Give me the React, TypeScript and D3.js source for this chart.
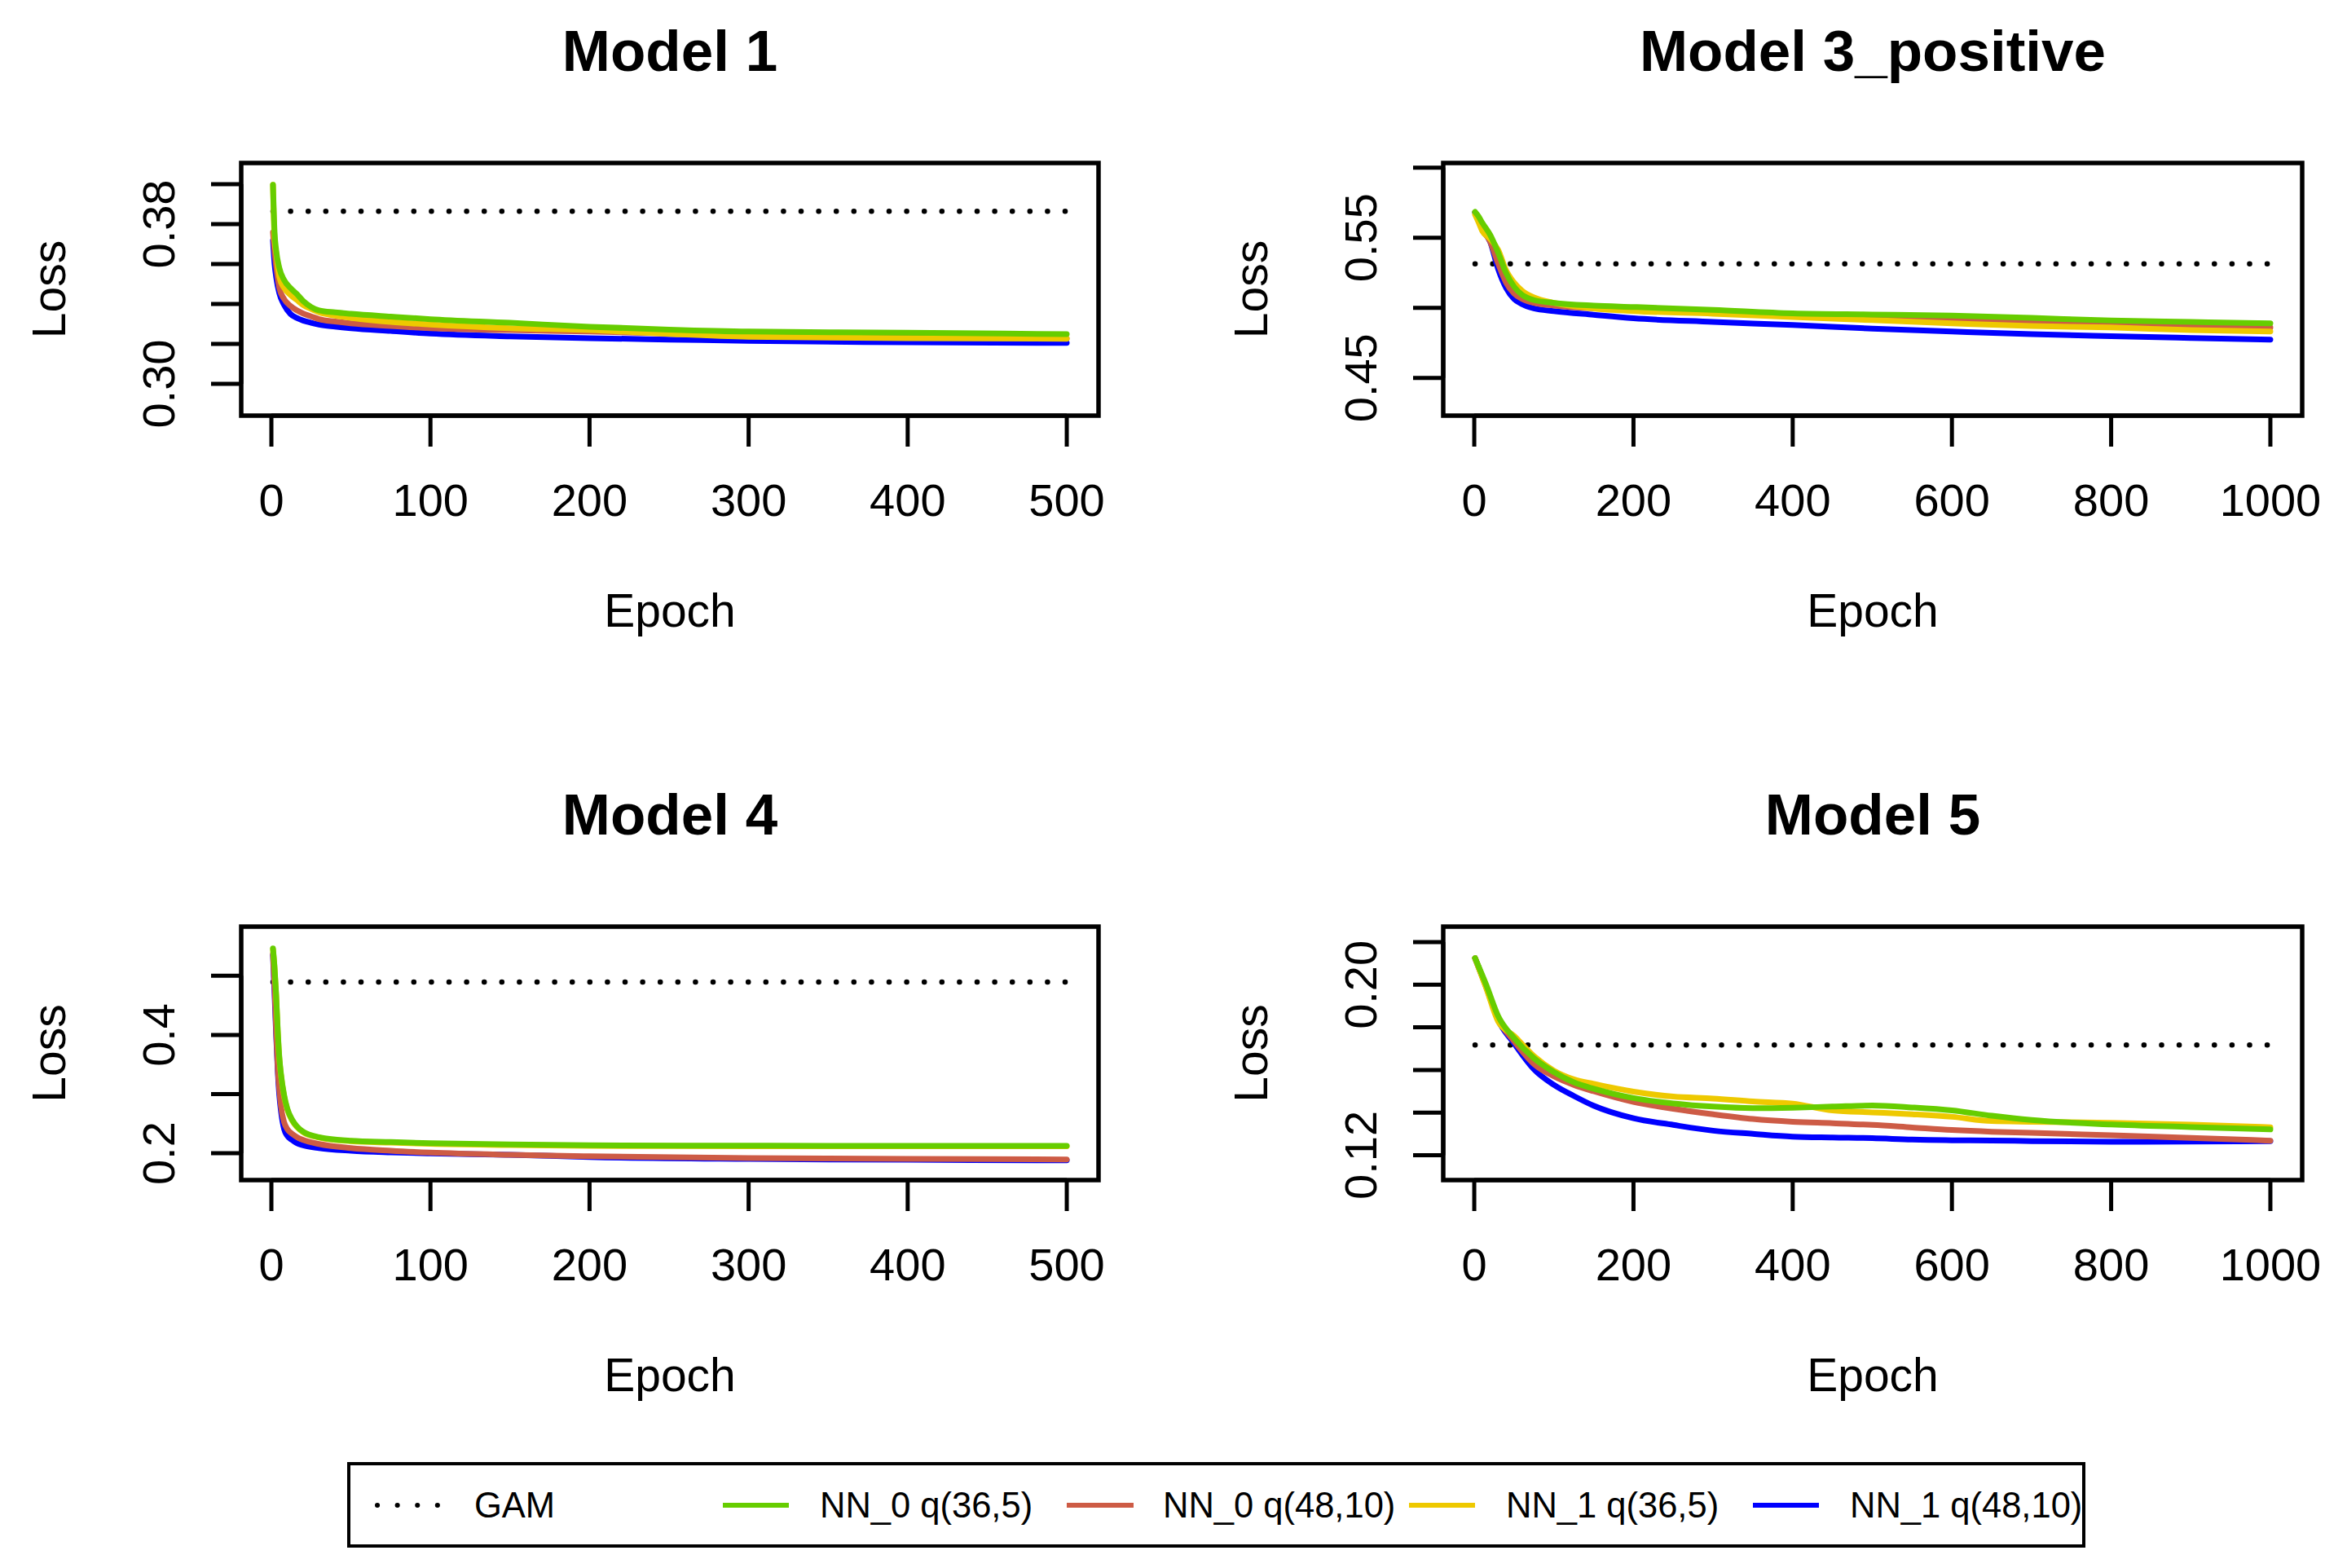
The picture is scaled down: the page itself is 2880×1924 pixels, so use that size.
import React from 'react';
import * as d3 from 'd3';

// ---------- shared legend / series data ----------
const SERIES_NAMES = ['NN_0 q(36,5)', 'NN_0 q(48,10)', 'NN_1 q(36,5)', 'NN_1 q(48,10)'];
const SERIES_COLORS = ['#66CD00', '#CD5B45', '#EEC900', '#0000FF'];
const DRAW_ORDER = [3, 1, 2, 0];
const GAM_LABEL = 'GAM';
const X_LABEL = 'Epoch';
const Y_LABEL = 'Loss';

// ---------- Model 1 ----------
const M1_TITLE = 'Model 1';
const M1_EPOCHS = [1, 2, 3, 5, 8, 12, 16, 20, 25, 30, 40, 50, 75, 100, 150, 200, 250, 300, 400, 500];
const M1_NN0_36 = [0.3997, 0.376, 0.367, 0.358, 0.352, 0.348, 0.345, 0.3415, 0.3385, 0.3368, 0.3358, 0.3351, 0.3337, 0.3324, 0.3306, 0.3286, 0.3272, 0.3262, 0.3256, 0.3249];
const M1_NN0_48 = [0.3759, 0.366, 0.3589, 0.348, 0.3425, 0.339, 0.3368, 0.3352, 0.3338, 0.3324, 0.3312, 0.3303, 0.329, 0.3279, 0.3269, 0.3262, 0.3252, 0.324, 0.3232, 0.3228];
const M1_NN1_36 = [0.3997, 0.372, 0.3657, 0.3535, 0.348, 0.3445, 0.342, 0.3395, 0.3375, 0.3358, 0.3342, 0.3331, 0.331, 0.3297, 0.3279, 0.3269, 0.325, 0.3236, 0.3229, 0.3226];
const M1_NN1_48 = [0.3718, 0.36, 0.3535, 0.3453, 0.3395, 0.335, 0.333, 0.3317, 0.3306, 0.3297, 0.3287, 0.3279, 0.3265, 0.3252, 0.3238, 0.3229, 0.3222, 0.3215, 0.3208, 0.3205];
const M1_GAM = 0.3864;
const M1_YLIM = [0.2841, 0.4106];
const M1_YTICKS = [0.3, 0.32, 0.34, 0.36, 0.38, 0.4];
const M1_YLABELS = ['0.30', '0.38'];
const M1_XTICKS = [0, 100, 200, 300, 400, 500];

// ---------- Model 3_positive ----------
const M2_TITLE = 'Model 3_positive';
const M2_EPOCHS = [1, 5, 10, 20, 30, 40, 50, 60, 75, 100, 150, 200, 300, 400, 500, 600, 700, 800, 900, 1000];
const M2_NN0_36 = [0.5684, 0.5655, 0.5607, 0.552, 0.5394, 0.5248, 0.5151, 0.5093, 0.5055, 0.5035, 0.5016, 0.5006, 0.4985, 0.496, 0.4952, 0.4944, 0.4928, 0.4909, 0.4899, 0.489];
const M2_NN0_48 = [0.568, 0.563, 0.5568, 0.5471, 0.5316, 0.518, 0.5103, 0.5064, 0.5035, 0.5016, 0.4996, 0.4987, 0.4967, 0.495, 0.4935, 0.4919, 0.4903, 0.489, 0.4874, 0.486];
const M2_NN1_36 = [0.5665, 0.5616, 0.5549, 0.5491, 0.5413, 0.5267, 0.518, 0.5122, 0.5074, 0.5035, 0.4996, 0.4977, 0.4958, 0.4935, 0.4912, 0.489, 0.487, 0.486, 0.4841, 0.4831];
const M2_NN1_48 = [0.568, 0.563, 0.556, 0.5471, 0.5277, 0.5142, 0.5064, 0.5026, 0.4996, 0.4977, 0.495, 0.4925, 0.49, 0.4877, 0.4852, 0.4831, 0.4812, 0.4798, 0.4785, 0.4773];
const M2_GAM = 0.5313;
const M2_YLIM = [0.4231, 0.6033];
const M2_YTICKS = [0.45, 0.5, 0.55, 0.6];
const M2_YLABELS = ['0.45', '0.55'];
const M2_XTICKS = [0, 200, 400, 600, 800, 1000];

// ---------- Model 4 ----------
const M3_TITLE = 'Model 4';
const M3_EPOCHS = [1, 2, 3, 4, 5, 6, 8, 10, 13, 16, 20, 30, 50, 75, 100, 150, 200, 300, 400, 500];
const M3_NN0_36 = [0.5463, 0.5142, 0.4683, 0.4085, 0.3627, 0.3351, 0.2984, 0.2755, 0.257, 0.2456, 0.2364, 0.2273, 0.2212, 0.219, 0.2171, 0.2149, 0.2135, 0.2128, 0.2126, 0.2124];
const M3_NN0_48 = [0.5372, 0.4821, 0.4085, 0.3443, 0.3076, 0.28, 0.2525, 0.241, 0.233, 0.2275, 0.2226, 0.2157, 0.2088, 0.2043, 0.2011, 0.1974, 0.195, 0.1919, 0.1906, 0.1895];
const M3_NN1_36 = [0.545, 0.512, 0.466, 0.406, 0.36, 0.333, 0.2965, 0.274, 0.2555, 0.2445, 0.2355, 0.2265, 0.2205, 0.218, 0.216, 0.214, 0.2125, 0.212, 0.2118, 0.2117];
const M3_NN1_48 = [0.535, 0.47, 0.4, 0.34, 0.298, 0.272, 0.241, 0.2295, 0.2225, 0.217, 0.2135, 0.2088, 0.2043, 0.2015, 0.1997, 0.1974, 0.1937, 0.1905, 0.189, 0.188];
const M3_GAM = 0.4896;
const M3_YLIM = [0.1547, 0.5831];
const M3_YTICKS = [0.2, 0.3, 0.4, 0.5];
const M3_YLABELS = ['0.2', '0.4'];
const M3_XTICKS = [0, 100, 200, 300, 400, 500];

// ---------- Model 5 ----------
const M4_TITLE = 'Model 5';
const M4_EPOCHS = [1, 15, 30, 50, 75, 100, 125, 150, 200, 250, 300, 350, 400, 450, 500, 550, 600, 650, 700, 800, 900, 1000];
const M4_NN0_36 = [0.2125, 0.2, 0.1853, 0.175, 0.1655, 0.159, 0.1542, 0.1512, 0.1468, 0.1443, 0.1428, 0.1421, 0.1423, 0.1428, 0.1433, 0.1424, 0.141, 0.1385, 0.1365, 0.1344, 0.1332, 0.1321];
const M4_NN0_48 = [0.2125, 0.199, 0.184, 0.1735, 0.1628, 0.157, 0.153, 0.15, 0.145, 0.1418, 0.1392, 0.137, 0.1357, 0.135, 0.1342, 0.133, 0.1318, 0.131, 0.1305, 0.1293, 0.1281, 0.1268];
const M4_NN1_36 = [0.2125, 0.1985, 0.1828, 0.176, 0.1665, 0.1597, 0.1556, 0.1535, 0.1498, 0.1475, 0.1466, 0.1452, 0.1442, 0.141, 0.1401, 0.1392, 0.138, 0.136, 0.1357, 0.1352, 0.1343, 0.1331];
const M4_NN1_48 = [0.2125, 0.199, 0.1835, 0.1725, 0.1603, 0.153, 0.1478, 0.1432, 0.1373, 0.1342, 0.1315, 0.13, 0.1287, 0.1283, 0.128, 0.1273, 0.127, 0.1269, 0.1266, 0.1263, 0.1264, 0.1266];
const M4_GAM = 0.1717;
const M4_YLIM = [0.1083, 0.2273];
const M4_YTICKS = [0.12, 0.14, 0.16, 0.18, 0.2, 0.22];
const M4_YLABELS = ['0.12', '0.20'];
const M4_XTICKS = [0, 200, 400, 600, 800, 1000];

// ---------- layout (not data) ----------
const W = 2880;
const H = 1924;
const FONT = "'Liberation Sans', Arial, Helvetica, sans-serif";
const BOXES = [
  { x0: 296, x1: 1348, y0: 200, y1: 510 },
  { x0: 1771, x1: 2825, y0: 200, y1: 510 },
  { x0: 296, x1: 1348, y0: 1137, y1: 1448 },
  { x0: 1771, x1: 2825, y0: 1137, y1: 1448 },
];
const LINE_W = 7;
const DOT_DASH = '0.1 21.5';
const TICK_FS = 56;
const LAB_FS = 57;
const TITLE_FS = 71;
const LEGEND_FS = 43.5;

const PANELS = [
  { title: M1_TITLE, epochs: M1_EPOCHS, series: [M1_NN0_36, M1_NN0_48, M1_NN1_36, M1_NN1_48], gam: M1_GAM, ylim: M1_YLIM, yticks: M1_YTICKS, ylabels: M1_YLABELS, xticks: M1_XTICKS },
  { title: M2_TITLE, epochs: M2_EPOCHS, series: [M2_NN0_36, M2_NN0_48, M2_NN1_36, M2_NN1_48], gam: M2_GAM, ylim: M2_YLIM, yticks: M2_YTICKS, ylabels: M2_YLABELS, xticks: M2_XTICKS },
  { title: M3_TITLE, epochs: M3_EPOCHS, series: [M3_NN0_36, M3_NN0_48, M3_NN1_36, M3_NN1_48], gam: M3_GAM, ylim: M3_YLIM, yticks: M3_YTICKS, ylabels: M3_YLABELS, xticks: M3_XTICKS },
  { title: M4_TITLE, epochs: M4_EPOCHS, series: [M4_NN0_36, M4_NN0_48, M4_NN1_36, M4_NN1_48], gam: M4_GAM, ylim: M4_YLIM, yticks: M4_YTICKS, ylabels: M4_YLABELS, xticks: M4_XTICKS },
];

function Panel({ p, box, idx }: any) {
  const first = p.epochs[0];
  const last = p.epochs[p.epochs.length - 1];
  const pad = 0.04 * (last - first);
  const xs = d3.scaleLinear().domain([first - pad, last + pad]).range([box.x0, box.x1]);
  const ys = d3.scaleLinear().domain(p.ylim).range([box.y1, box.y0]);
  const cx = (box.x0 + box.x1) / 2;
  const cy = (box.y0 + box.y1) / 2;
  const clipId = `clip${idx}`;
  return (
    <g>
      <defs>
        <clipPath id={clipId}>
          <rect x={box.x0} y={box.y0} width={box.x1 - box.x0} height={box.y1 - box.y0} />
        </clipPath>
      </defs>
      <text x={cx} y={box.y0 - 113} textAnchor="middle" fontFamily={FONT} fontWeight="bold" fontSize={TITLE_FS}>{p.title}</text>
      <g clipPath={`url(#${clipId})`}>
        <line x1={xs(first)} x2={xs(last)} y1={ys(p.gam)} y2={ys(p.gam)} stroke="#000" strokeWidth={6.5} strokeDasharray={DOT_DASH} strokeLinecap="round" />
        {DRAW_ORDER.map((si) => {
          const vals: number[] = p.series[si];
          const gen = d3.line<number>().x((_, i) => xs(p.epochs[i])).y((v) => ys(v)).curve(d3.curveMonotoneX);
          return <path key={si} d={gen(vals) || ''} fill="none" stroke={SERIES_COLORS[si]} strokeWidth={LINE_W} strokeLinejoin="round" strokeLinecap="round" />;
        })}
      </g>
      <rect x={box.x0} y={box.y0} width={box.x1 - box.x0} height={box.y1 - box.y0} fill="none" stroke="#000" strokeWidth={5.5} />
      {/* y axis */}
      <line x1={box.x0} x2={box.x0} y1={ys(p.yticks[0])} y2={ys(p.yticks[p.yticks.length - 1])} stroke="#000" strokeWidth={5} />
      {p.yticks.map((t: number) => (
        <line key={t} x1={box.x0 - 37} x2={box.x0} y1={ys(t)} y2={ys(t)} stroke="#000" strokeWidth={5} />
      ))}
      {p.ylabels.map((l: string) => (
        <text key={l} transform={`translate(${box.x0 - 82},${ys(+l)}) rotate(-90)`} textAnchor="middle" fontFamily={FONT} fontSize={TICK_FS}>{l}</text>
      ))}
      <text transform={`translate(${box.x0 - 216},${cy}) rotate(-90)`} textAnchor="middle" fontFamily={FONT} fontSize={LAB_FS}>{Y_LABEL}</text>
      {/* x axis */}
      <line x1={xs(p.xticks[0])} x2={xs(p.xticks[p.xticks.length - 1])} y1={box.y1} y2={box.y1} stroke="#000" strokeWidth={5} />
      {p.xticks.map((t: number) => (
        <g key={t}>
          <line x1={xs(t)} x2={xs(t)} y1={box.y1} y2={box.y1 + 38} stroke="#000" strokeWidth={5} />
          <text x={xs(t)} y={box.y1 + 123} textAnchor="middle" fontFamily={FONT} fontSize={TICK_FS}>{t}</text>
        </g>
      ))}
      <text x={cx} y={box.y1 + 259} textAnchor="middle" fontFamily={FONT} fontSize={LAB_FS}>{X_LABEL}</text>
    </g>
  );
}

const LEGEND_BOX = { x: 428, y: 1796, w: 2129, h: 101 };
const LEGEND_SEG_X = [463, 887, 1309, 1729, 2151];
const LEGEND_SEG_LEN = [74, 81, 82, 81, 81];
const LEGEND_TEXT_X = [582, 1006, 1427, 1848, 2270];

function Legend() {
  const cy = 1847;
  const labels = [GAM_LABEL, ...SERIES_NAMES];
  return (
    <g>
      <rect x={LEGEND_BOX.x} y={LEGEND_BOX.y} width={LEGEND_BOX.w} height={LEGEND_BOX.h} fill="#fff" stroke="#000" strokeWidth={4} />
      {labels.map((lab, i) => (
        <g key={lab}>
          {i === 0 ? (
            <line x1={LEGEND_SEG_X[i]} x2={LEGEND_SEG_X[i] + LEGEND_SEG_LEN[i]} y1={cy} y2={cy} stroke="#000" strokeWidth={6} strokeDasharray="0.1 24.5" strokeLinecap="round" />
          ) : (
            <line x1={LEGEND_SEG_X[i]} x2={LEGEND_SEG_X[i] + LEGEND_SEG_LEN[i]} y1={cy} y2={cy} stroke={SERIES_COLORS[i - 1]} strokeWidth={6} />
          )}
          <text x={LEGEND_TEXT_X[i]} y={cy + 15} fontFamily={FONT} fontSize={LEGEND_FS}>{lab}</text>
        </g>
      ))}
    </g>
  );
}

export default function App() {
  return (
    <svg width={W} height={H} viewBox={`0 0 ${W} ${H}`} style={{ position: 'absolute', left: 0, top: 0, display: 'block', background: '#fff' }}>
      <rect x={0} y={0} width={W} height={H} fill="#fff" />
      {PANELS.map((p, i) => (
        <Panel key={i} p={p} box={BOXES[i]} idx={i} />
      ))}
      <Legend />
    </svg>
  );
}
